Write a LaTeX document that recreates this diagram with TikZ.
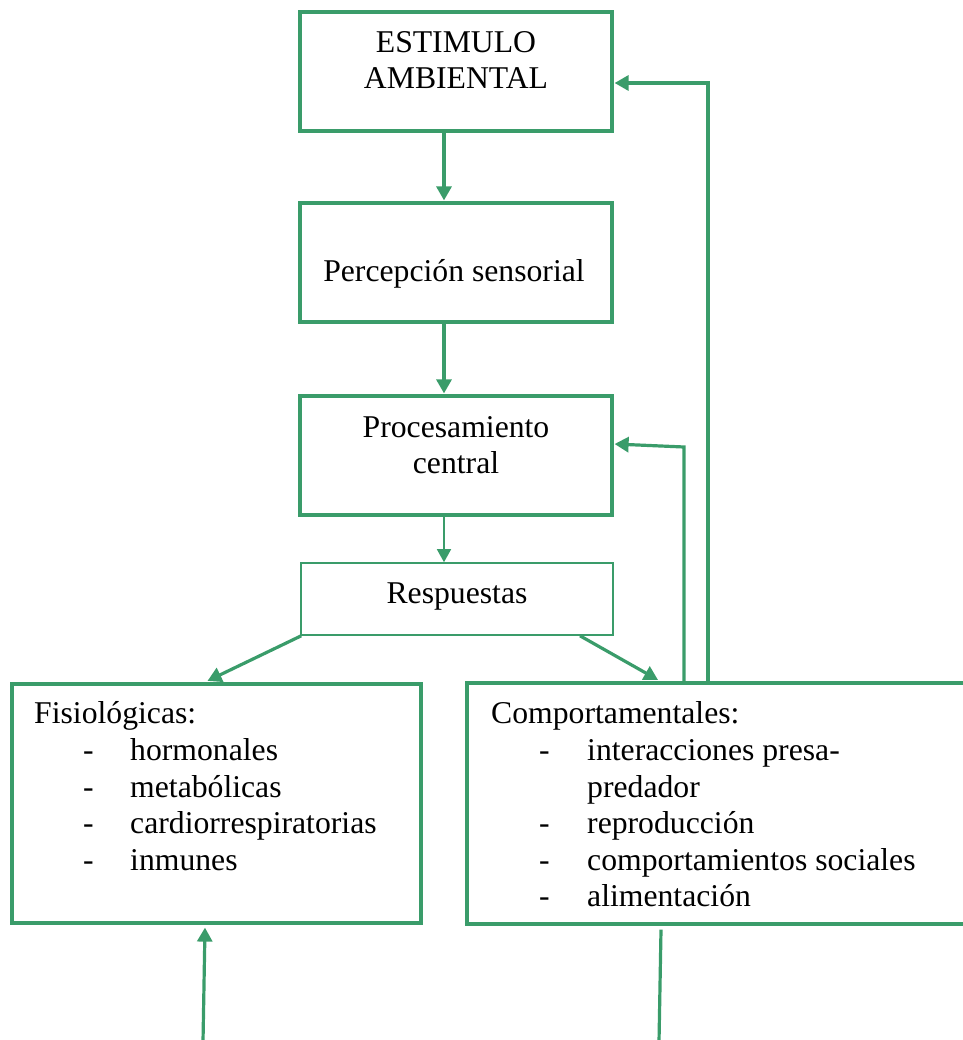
\documentclass[tikz,border=0pt]{standalone}
\usepackage{fontspec}
\setmainfont{Liberation Serif}
\usetikzlibrary{arrows.meta,calc}
\definecolor{leaf}{RGB}{58,156,106}
\begin{document}
\begin{tikzpicture}[x=1pt,y=-1pt,
  box/.style={draw=leaf,line width=3.2pt,rectangle,inner sep=0pt},
  thinbox/.style={draw=leaf,line width=1.6pt,rectangle,inner sep=0pt},
  txt/.style={inner sep=0pt,font=\fontsize{31.7}{36.5}\selectfont},
  link/.style={draw=leaf,line width=3.2pt,-{Triangle[length=14pt,width=15pt]}},
  thinlink/.style={draw=leaf,line width=1.6pt,-{Triangle[length=13pt,width=14pt]}},
  wire/.style={draw=leaf,line width=3.2pt}]
\useasboundingbox (0,0) rectangle (962,1040);

% boxes
\node[box,minimum width=312pt,minimum height=119pt] (estimulo) at (456,71.5) {};
\node[box,minimum width=312pt,minimum height=119pt] (percep) at (456,262.5) {};
\node[box,minimum width=312pt,minimum height=119pt] (proc) at (456,455.5) {};
\node[thinbox,minimum width=312pt,minimum height=72pt] (resp) at (457,599) {};
\node[box,minimum width=409pt,minimum height=239pt] (fisio) at (216.5,803.5) {};
\node[box,minimum width=508pt,minimum height=241pt] (comp) at (721,803.5) {};

% texts
\node[txt,anchor=base] (t1) at (456,53) {ESTIMULO};
\node[txt,anchor=base] (t2) at (456,89) {AMBIENTAL};
\node[txt,anchor=base] (t3) at (454,282) {Percepción sensorial};
\node[txt,anchor=base] (t4) at (456,437) {Procesamiento};
\node[txt,anchor=base] (t5) at (456,473) {central};
\node[txt,anchor=base] (t6) at (457,603) {Respuestas};

\node[txt,anchor=base west] (f0) at (34,723) {Fisiológicas:};
\foreach \y/\w [count=\i] in {760/hormonales,797/metabólicas,833/cardiorrespiratorias,870/inmunes}{
  \node[txt,anchor=base west] (fd\i) at (83,\y) {-};
  \node[txt,anchor=base west] (fi\i) at (130,\y) {\w};
}
\node[txt,anchor=base west] (c0) at (491,723) {Comportamentales:};
\foreach \y in {760,833,870,906}{
  \node[txt,anchor=base west] (cd\y) at (539,\y) {-};
}
\node[txt,anchor=base west] (c1) at (587,760) {interacciones presa-};
\node[txt,anchor=base west] (c2) at (587,797) {predador};
\node[txt,anchor=base west] (c3) at (587,833) {reproducción};
\node[txt,anchor=base west] (c4) at (587,870) {comportamientos sociales};
\node[txt,anchor=base west] (c5) at (587,906) {alimentación};

% main flow (yshift is in page units: positive moves up)
\draw[link] ([xshift=-12pt]estimulo.south) -- ([xshift=-12pt,yshift=1pt]percep.north);
\draw[link] ([xshift=-12pt]percep.south) -- ([xshift=-12pt,yshift=1pt]proc.north);
\draw[thinlink] ([xshift=-12pt]proc.south) -- ([xshift=-13pt]resp.north);
\draw[link] ([xshift=1pt]resp.south west) -- ([xshift=-9pt,yshift=1.5pt]fisio.north);
\draw[link] ([xshift=123pt]resp.south) -- ([xshift=-63pt,yshift=1.5pt]comp.north);

% feedback loops
\coordinate (fb1a) at (684,447);
\coordinate (fb2a) at (708,83);
\draw[link] ([xshift=-37pt]comp.north) -- (fb1a) -- ([xshift=1pt,yshift=11.5pt]proc.east);
\draw[link] ([xshift=-13pt]comp.north) -- (fb2a) -- ([xshift=1pt,yshift=-11.5pt]estimulo.east);

% loose ends at the bottom
\coordinate (inL) at (203,1042);
\coordinate (outR) at (659,1042);
\draw[link] (inL) -- ([xshift=-11.5pt,yshift=-3pt]fisio.south);
\draw[wire] ([xshift=-60pt,yshift=-4pt]comp.south) -- (outR);
\end{tikzpicture}
\end{document}
